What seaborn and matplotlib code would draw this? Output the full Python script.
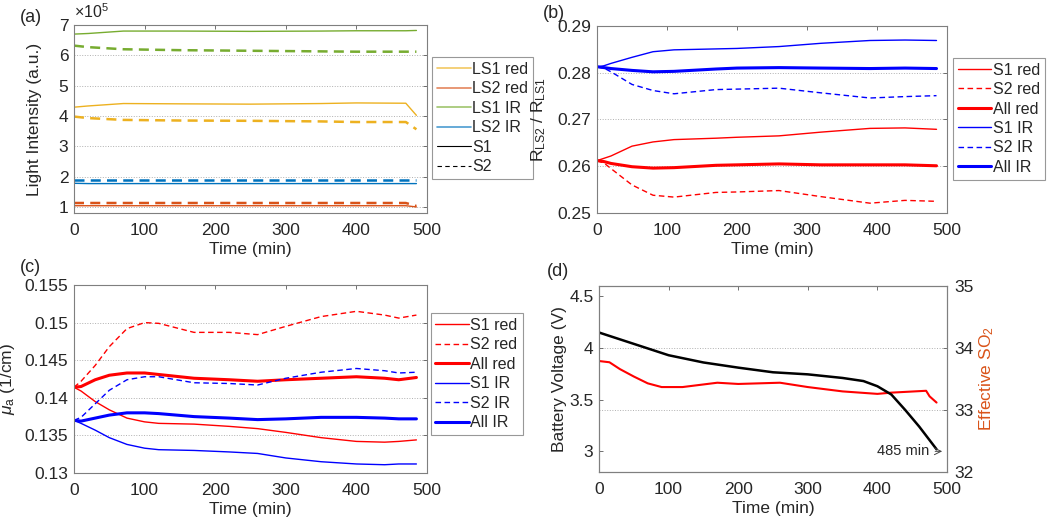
import numpy as np
import pandas as pd
import matplotlib
matplotlib.use("Agg")
import matplotlib.pyplot as plt
from matplotlib.ticker import FormatStrFormatter, MultipleLocator
from matplotlib.lines import Line2D
import seaborn as sns

# ---------------- data ----------------
# (a) light intensity, units of 1e5
t_a = [0, 20, 70, 150, 250, 350, 400, 470, 485]
ls1ir_s1 = [6.70, 6.72, 6.80, 6.80, 6.79, 6.80, 6.81, 6.81, 6.82]
ls1ir_s2 = [6.32, 6.27, 6.20, 6.17, 6.15, 6.13, 6.12, 6.12, 6.12]
ls1red_s1 = [4.29, 4.33, 4.41, 4.40, 4.39, 4.41, 4.43, 4.42, 4.02]
ls1red_s2 = [3.98, 3.93, 3.87, 3.85, 3.84, 3.82, 3.80, 3.80, 3.56]
ls2ir_s1 = [1.78, 1.77, 1.77, 1.77, 1.77, 1.77, 1.77, 1.77, 1.77]
ls2ir_s2 = [1.89, 1.89, 1.89, 1.89, 1.89, 1.89, 1.89, 1.89, 1.89]
ls2red_s1 = [1.04, 1.04, 1.04, 1.04, 1.04, 1.04, 1.04, 1.04, 1.00]
ls2red_s2 = [1.13, 1.13, 1.13, 1.13, 1.13, 1.13, 1.13, 1.13, 1.03]

# (b) ratio R_LS2 / R_LS1
t_b = [0, 10, 20, 50, 80, 110, 170, 200, 260, 320, 390, 440, 485]
b_s1_ir = [0.2812, 0.2815, 0.2820, 0.2833, 0.2845, 0.2849, 0.2851, 0.2852, 0.2856, 0.2863, 0.2869, 0.2870, 0.2869]
b_s2_ir = [0.2812, 0.2810, 0.2802, 0.2775, 0.2762, 0.2755, 0.2764, 0.2765, 0.2767, 0.2757, 0.2746, 0.2749, 0.2751]
b_all_ir = [0.2813, 0.2811, 0.2809, 0.2805, 0.2802, 0.2803, 0.2808, 0.2810, 0.2811, 0.2810, 0.2809, 0.2810, 0.2809]
b_s1_red = [0.2612, 0.2617, 0.2622, 0.2643, 0.2652, 0.2657, 0.2660, 0.2662, 0.2665, 0.2673, 0.2681, 0.2682, 0.2679]
b_s2_red = [0.2612, 0.2607, 0.2595, 0.2560, 0.2538, 0.2534, 0.2544, 0.2545, 0.2548, 0.2535, 0.2521, 0.2527, 0.2525]
b_all_red = [0.2612, 0.2610, 0.2606, 0.2599, 0.2596, 0.2597, 0.2602, 0.2603, 0.2605, 0.2603, 0.2603, 0.2603, 0.2601]

# (c) mu_a (1/cm)
t_c = [0, 10, 30, 50, 75, 100, 120, 170, 220, 260, 300, 350, 400, 440, 460, 485]
c_s1_red = [0.1414, 0.1409, 0.1395, 0.1384, 0.1373, 0.1368, 0.1366, 0.1365, 0.1362, 0.1359, 0.1354, 0.1347, 0.1342, 0.1341, 0.1342, 0.1344]
c_s2_red = [0.1414, 0.1422, 0.1443, 0.1468, 0.1492, 0.1500, 0.1499, 0.1487, 0.1487, 0.1484, 0.1495, 0.1508, 0.1515, 0.1510, 0.1506, 0.1510]
c_all_red = [0.1414, 0.1415, 0.1424, 0.1430, 0.1433, 0.1433, 0.1431, 0.1426, 0.1424, 0.1422, 0.1424, 0.1426, 0.1428, 0.1426, 0.1424, 0.1427]
c_s1_ir = [0.1370, 0.1366, 0.1357, 0.1347, 0.1338, 0.1333, 0.1331, 0.1330, 0.1328, 0.1326, 0.1320, 0.1315, 0.1312, 0.1311, 0.1312, 0.1312]
c_s2_ir = [0.1370, 0.1374, 0.1392, 0.1410, 0.1424, 0.1428, 0.1428, 0.1420, 0.1419, 0.1417, 0.1426, 0.1434, 0.1439, 0.1436, 0.1433, 0.1434]
c_all_ir = [0.1370, 0.1369, 0.1373, 0.1377, 0.1380, 0.1380, 0.1379, 0.1375, 0.1373, 0.1371, 0.1372, 0.1374, 0.1374, 0.1373, 0.1372, 0.1372]

# (d) battery voltage and effective SO2
t_v = [0, 50, 100, 150, 200, 250, 300, 350, 380, 400, 420, 440, 460, 485]
voltage = [4.15, 4.04, 3.93, 3.86, 3.81, 3.765, 3.745, 3.71, 3.68, 3.63, 3.55, 3.40, 3.24, 3.02]
t_so2 = [0, 15, 30, 50, 70, 90, 120, 170, 200, 260, 300, 350, 400, 420, 470, 475, 485]
so2 = [33.79, 33.77, 33.66, 33.54, 33.43, 33.37, 33.37, 33.44, 33.42, 33.44, 33.37, 33.30, 33.26, 33.28, 33.31, 33.22, 33.12]

legend_a = ["LS1 red", "LS2 red", "LS1 IR", "LS2 IR", "S1", "S2"]
legend_bc = ["S1 red", "S2 red", "All red", "S1 IR", "S2 IR", "All IR"]

# ---------------- style ----------------
sns.set_style("white")
plt.rcParams["font.family"] = ["Liberation Sans", "DejaVu Sans"]
plt.rcParams["mathtext.fontset"] = "custom"
plt.rcParams["mathtext.rm"] = "Liberation Sans"
plt.rcParams["mathtext.it"] = "Liberation Sans:italic"
plt.rcParams["font.size"] = 12

C_YEL = "#EDB120"
C_ORA = "#D95319"
C_GRN = "#77AC30"
C_BLU = "#0072BD"
RED = "#FF0000"
BLUE = "#0000FF"
DASH = (4, 2.5)
TICK_FS = 12.5
LAB_FS = 12.5
LEG_FS = 11.5

W, H = 1050, 519
fig = plt.figure(figsize=(W / 100, H / 100), dpi=100)


def box(l, r, t, b):
    return [l / W, 1 - b / H, (r - l) / W, (b - t) / H]


def style(ax, grid_ax=None):
    for s in ax.spines.values():
        s.set_color("#7f7f7f")
        s.set_linewidth(0.8)
    ax.tick_params(direction="in", length=3, width=0.6, color="#5a5a5a",
                   labelsize=TICK_FS, top=True, right=True, pad=4)
    ax.tick_params(axis="x", pad=7)
    ax.set_xlim(0, 500)
    ax.xaxis.set_major_locator(MultipleLocator(100))
    ax.set_xlabel("Time (min)", fontsize=LAB_FS, labelpad=3)
    g = grid_ax if grid_ax is not None else ax
    g.yaxis.grid(True, linestyle=":", color="#b0b0b0", linewidth=0.7)
    ax.set_axisbelow(True)


def ylab(ax, text, right_px, left_px, width_px, **kw):
    ax.set_ylabel(text, fontsize=LAB_FS, **kw)
    ax.yaxis.set_label_coords((right_px - left_px) / width_px, 0.5)


def line(ax, x, y, color, lw, dashed=False, label=None):
    kw = dict(x=x, y=y, ax=ax, color=color, linewidth=lw, label=label, legend=False)
    l = sns.lineplot(**kw)
    if dashed:
        l.lines[-1].set_dashes(DASH)


def legend(ax, handles, labels, anchor):
    leg = ax.legend(handles, labels, loc="upper left", bbox_to_anchor=anchor, frameon=True,
                    fancybox=False, edgecolor="#7f7f7f", fontsize=LEG_FS, handlelength=2.1,
                    handletextpad=0.1, borderpad=0.3, labelspacing=0.28, borderaxespad=0)
    leg.get_frame().set_linewidth(0.8)
    return leg


# ---------------- (a) ----------------
ax = fig.add_axes(box(74, 427, 25, 213))
line(ax, t_a, ls1ir_s1, C_GRN, 1.0)
line(ax, t_a, ls1ir_s2, C_GRN, 1.8, dashed=True)
line(ax, t_a, ls1red_s1, C_YEL, 1.0)
line(ax, t_a, ls1red_s2, C_YEL, 1.8, dashed=True)
line(ax, t_a, ls2ir_s1, C_BLU, 1.0)
line(ax, t_a, ls2ir_s2, C_BLU, 1.8, dashed=True)
line(ax, t_a, ls2red_s1, C_ORA, 1.0)
line(ax, t_a, ls2red_s2, C_ORA, 1.8, dashed=True)
ax.set_ylim(0.8, 7.0)
ax.yaxis.set_major_locator(MultipleLocator(1))
style(ax)
ylab(ax, "Light Intensity (a.u.)", 42, 74, 353)
ax.text(0.0, 1.02, r"$\times$10$^5$", transform=ax.transAxes, fontsize=11.5, ha="left", va="bottom")
hs = [Line2D([], [], color=C_YEL, lw=1.2, alpha=0.7), Line2D([], [], color=C_ORA, lw=1.2, alpha=0.7),
      Line2D([], [], color=C_GRN, lw=1.2, alpha=0.7), Line2D([], [], color=C_BLU, lw=1.2, alpha=0.7),
      Line2D([], [], color="k", lw=0.8), Line2D([], [], color="k", lw=0.8, dashes=(4, 3))]
legend(ax, hs, legend_a, (1.015, 0.83))
fig.text(20 / W, 1 - 18 / H, "(a)", fontsize=13, va="center")

# ---------------- (b) ----------------
ax = fig.add_axes(box(597, 947, 26, 213))
line(ax, t_b, b_s1_red, RED, 1.0, label=legend_bc[0])
line(ax, t_b, b_s2_red, RED, 1.0, dashed=True, label=legend_bc[1])
line(ax, t_b, b_all_red, RED, 2.2, label=legend_bc[2])
line(ax, t_b, b_s1_ir, BLUE, 1.0, label=legend_bc[3])
line(ax, t_b, b_s2_ir, BLUE, 1.0, dashed=True, label=legend_bc[4])
line(ax, t_b, b_all_ir, BLUE, 2.2, label=legend_bc[5])
ax.set_ylim(0.25, 0.29)
ax.yaxis.set_major_locator(MultipleLocator(0.01))
ax.yaxis.set_major_formatter(FormatStrFormatter("%g"))
style(ax)
ylab(ax, r"R$_{\mathrm{LS2}}$ / R$_{\mathrm{LS1}}$", 548, 597, 350)
hb = [Line2D([], [], color=RED, lw=1.0), Line2D([], [], color=RED, lw=1.0, dashes=DASH),
      Line2D([], [], color=RED, lw=2.2), Line2D([], [], color=BLUE, lw=1.0),
      Line2D([], [], color=BLUE, lw=1.0, dashes=DASH), Line2D([], [], color=BLUE, lw=2.2)]
legend(ax, hb, legend_bc, (1.017, 0.83))
fig.text(543 / W, 1 - 14 / H, "(b)", fontsize=13, va="center")

# ---------------- (c) ----------------
ax = fig.add_axes(box(74, 427, 285, 473))
line(ax, t_c, c_s1_red, RED, 1.0)
line(ax, t_c, c_s2_red, RED, 1.0, dashed=True)
line(ax, t_c, c_all_red, RED, 2.2)
line(ax, t_c, c_s1_ir, BLUE, 1.0)
line(ax, t_c, c_s2_ir, BLUE, 1.0, dashed=True)
line(ax, t_c, c_all_ir, BLUE, 2.2)
ax.set_ylim(0.13, 0.155)
ax.yaxis.set_major_locator(MultipleLocator(0.005))
ax.yaxis.set_major_formatter(FormatStrFormatter("%g"))
style(ax)
ylab(ax, r"$\mu_{\mathrm{a}}$ (1/cm)", 17, 74, 353)
legend(ax, hb, legend_bc, (1.01, 0.85))
fig.text(20 / W, 1 - 268 / H, "(c)", fontsize=13, va="center")

# ---------------- (d) ----------------
ax = fig.add_axes(box(599, 947, 286, 472))
ax2 = ax.twinx()
line(ax, t_v, voltage, "black", 1.8)
line(ax2, t_so2, so2, RED, 1.5)
ax.set_ylim(2.8, 4.6)
ax.yaxis.set_major_locator(MultipleLocator(0.5))
ax.yaxis.set_major_formatter(FormatStrFormatter("%g"))
ax2.set_ylim(32, 35)
ax2.yaxis.set_major_locator(MultipleLocator(1))
style(ax, grid_ax=ax2)
ylab(ax, "Battery Voltage (V)", 567, 599, 348)
ax2.set_ylabel(r"Effective SO$_2$", color=C_ORA, fontsize=LAB_FS)
ax2.yaxis.set_label_coords((977 - 599) / 348, 0.5)
ax.tick_params(right=False)
for s in ax2.spines.values():
    s.set_color("#7f7f7f")
    s.set_linewidth(0.8)
ax2.tick_params(direction="in", length=3, width=0.6, color="#5a5a5a", labelsize=TICK_FS, pad=5)
ax2.set_xlabel("")
ax.set_zorder(ax2.get_zorder() + 1)
ax.patch.set_visible(False)
ax.text(475, 3.0, "485 min", fontsize=10.5, ha="right", va="center")
ax.annotate("", xy=(497, 3.0), xytext=(479, 3.0),
            arrowprops=dict(arrowstyle="->", color="#444444", lw=0.7))
fig.text(547 / W, 1 - 272 / H, "(d)", fontsize=13, va="center")

fig.savefig("out.png", dpi=100)
